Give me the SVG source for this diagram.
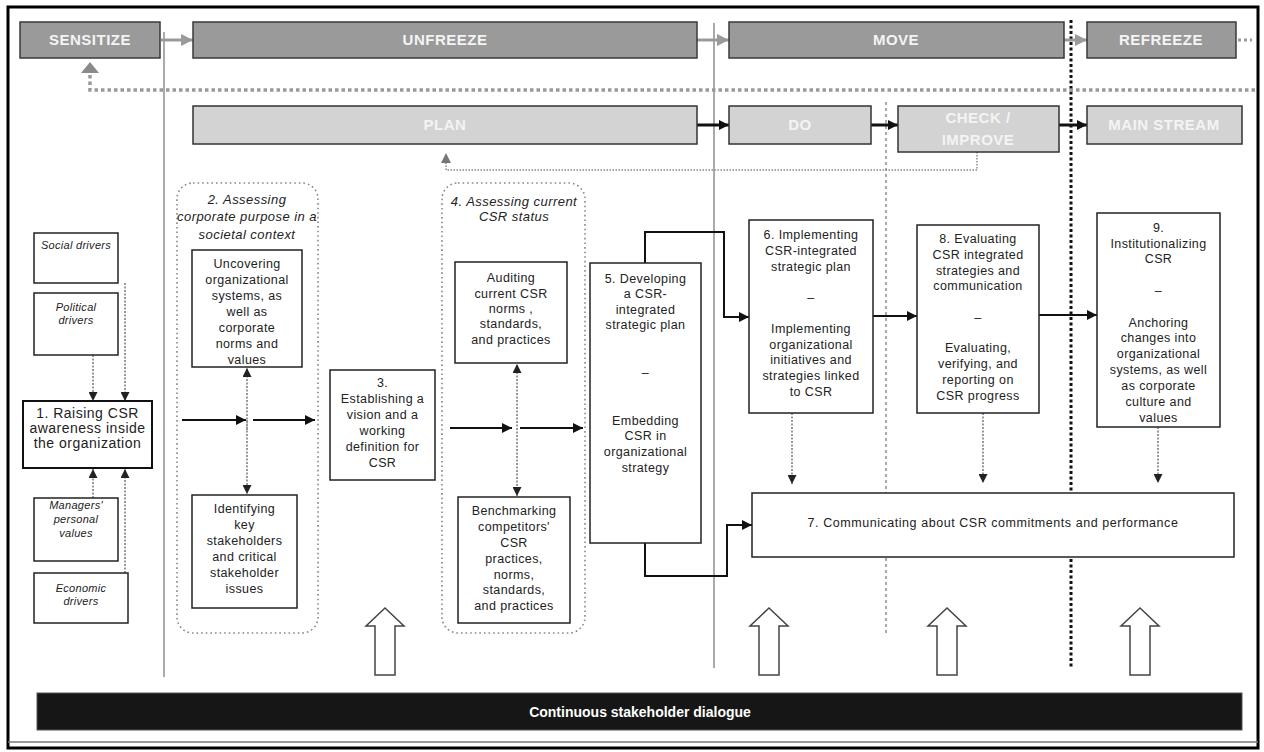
<svg xmlns="http://www.w3.org/2000/svg" width="1264" height="752" viewBox="0 0 1264 752">
<style>
.phase{fill:#9a9a9a;stroke:#3a3a3a;stroke-width:1.5}
.sub{fill:#d3d3d3;stroke:#333;stroke-width:1.5}
.ph{font-family:"Liberation Sans",Arial,sans-serif;font-weight:bold;font-size:15px;fill:#f4f4f4;text-anchor:middle;letter-spacing:0.5px}
.box{fill:#fff;stroke:#222;stroke-width:1.5}
.box1{fill:#fff;stroke:#111;stroke-width:2}
.tx{font-family:"Liberation Sans",Arial,sans-serif;font-size:12.5px;fill:#222;text-anchor:middle;letter-spacing:0.4px}
.tx1{font-family:"Liberation Sans",Arial,sans-serif;font-size:14px;fill:#222;text-anchor:middle;letter-spacing:0.5px}
.it{font-family:"Liberation Sans",Arial,sans-serif;font-style:italic;font-size:13px;fill:#222;text-anchor:middle;letter-spacing:0.45px}
.its{font-family:"Liberation Sans",Arial,sans-serif;font-style:italic;font-size:11px;fill:#222;text-anchor:middle;letter-spacing:0.3px}
.group{fill:none;stroke:#888;stroke-width:1.6;stroke-dasharray:1.6 3}
.solid{fill:none;stroke:#111;stroke-width:2}
.dot{fill:none;stroke:#999;stroke-width:2;stroke-dasharray:2 1.5}
.hollow{fill:#fff;stroke:#444;stroke-width:1.5}
</style>
<defs>
<marker id="ah" viewBox="0 0 10 10" refX="10" refY="5" markerWidth="10" markerHeight="10" markerUnits="userSpaceOnUse" orient="auto"><path d="M0,0 L10,5 L0,10 z" fill="#111"/></marker>
<marker id="ahs" viewBox="0 0 10 10" refX="10" refY="5" markerWidth="9" markerHeight="9" markerUnits="userSpaceOnUse" orient="auto"><path d="M0,0 L10,5 L0,10 z" fill="#222"/></marker>
<marker id="ahg" viewBox="0 0 10 10" refX="10" refY="5" markerWidth="12" markerHeight="12" markerUnits="userSpaceOnUse" orient="auto"><path d="M0,0 L10,5 L0,10 z" fill="#9a9a9a"/></marker>
</defs>
<rect x="0" y="0" width="1264" height="752" fill="#fff"/>
<!-- frame -->
<rect x="8" y="7" width="1250" height="741" fill="none" stroke="#000" stroke-width="3"/>
<line x1="8" y1="742" x2="1258" y2="742" stroke="#777" stroke-width="1.5"/>

<!-- divider lines -->
<g id="dividers">
<line x1="164" y1="32" x2="164" y2="677" stroke="#aaa" stroke-width="2"/>
<line x1="714" y1="23" x2="714" y2="668" stroke="#aaa" stroke-width="2"/>
<line x1="886" y1="102" x2="886" y2="633" stroke="#555" stroke-width="1" stroke-dasharray="3 3"/>
<line x1="1071" y1="20" x2="1071" y2="667" stroke="#111" stroke-width="3" stroke-dasharray="3 2.5"/>
</g>

<g id="connectors">
<!-- top phase arrows -->
<line x1="161" y1="40" x2="193" y2="40" stroke="#9a9a9a" stroke-width="3" marker-end="url(#ahg)"/>
<line x1="697" y1="40" x2="729" y2="40" stroke="#9a9a9a" stroke-width="3" marker-end="url(#ahg)"/>
<line x1="1064" y1="40" x2="1087" y2="40" stroke="#9a9a9a" stroke-width="3" marker-end="url(#ahg)"/>
<line x1="1238" y1="40" x2="1252" y2="40" stroke="#9a9a9a" stroke-width="3" stroke-dasharray="3 3"/>
<!-- feedback dotted to sensitize -->
<path d="M1255,90 H90 V73" fill="none" stroke="#999" stroke-width="3.5" stroke-dasharray="3.5 3"/>
<path d="M90,62 L81,73 L99,73 z" fill="#8a8a8a"/>
<!-- PDCA arrows -->
<line x1="697" y1="125" x2="729" y2="125" stroke="#111" stroke-width="3" marker-end="url(#ah)"/>
<line x1="871" y1="125" x2="898" y2="125" stroke="#111" stroke-width="3" marker-end="url(#ah)"/>
<line x1="1059" y1="125" x2="1087" y2="125" stroke="#111" stroke-width="3" marker-end="url(#ah)"/>
<path d="M977,152 V170 H446 V162" fill="none" stroke="#888" stroke-width="1.5" stroke-dasharray="1.5 1.5"/>
<path d="M446,153 L441,163 L451,163 z" fill="#777"/>
<!-- drivers -->
<line x1="93" y1="355" x2="93" y2="401" class="dot" marker-end="url(#ahs)"/>
<line x1="125" y1="283" x2="125" y2="401" class="dot" marker-end="url(#ahs)"/>
<line x1="93" y1="498" x2="93" y2="469" class="dot" marker-end="url(#ahs)"/>
<line x1="125" y1="573" x2="125" y2="469" class="dot" marker-end="url(#ahs)"/>
<!-- group 2 -->
<line x1="182" y1="420" x2="246" y2="420" class="solid" marker-end="url(#ah)"/>
<line x1="253" y1="420" x2="315" y2="420" class="solid" marker-end="url(#ah)"/>
<line x1="247" y1="430" x2="247" y2="368" class="dot" marker-end="url(#ahs)"/>
<line x1="247" y1="420" x2="247" y2="494" class="dot" marker-end="url(#ahs)"/>
<!-- group 4 -->
<line x1="450" y1="428" x2="512" y2="428" class="solid" marker-end="url(#ah)"/>
<line x1="520" y1="428" x2="583" y2="428" class="solid" marker-end="url(#ah)"/>
<line x1="517" y1="430" x2="517" y2="364" class="dot" marker-end="url(#ahs)"/>
<line x1="517" y1="428" x2="517" y2="496" class="dot" marker-end="url(#ahs)"/>
<!-- 5 to 6 and 7 -->
<path d="M645,263 V232 H724 V317 H749" class="solid" marker-end="url(#ah)"/>
<path d="M645,543 V576 H727 V525 H752" class="solid" marker-end="url(#ah)"/>
<line x1="873" y1="316" x2="917" y2="316" class="solid" marker-end="url(#ah)"/>
<line x1="1039" y1="315" x2="1097" y2="315" class="solid" marker-end="url(#ah)"/>
<line x1="792" y1="413" x2="792" y2="484" class="dot" marker-end="url(#ahs)"/>
<line x1="983" y1="413" x2="983" y2="483" class="dot" marker-end="url(#ahs)"/>
<line x1="1158" y1="427" x2="1158" y2="483" class="dot" marker-end="url(#ahs)"/>
<!-- hollow arrows -->
<path class="hollow" d="M385,608 L404,626 L395,626 L395,675 L375,675 L375,626 L366,626 z"/>
<path class="hollow" d="M769,608 L788,626 L779,626 L779,675 L759,675 L759,626 L750,626 z"/>
<path class="hollow" d="M947,608 L966,626 L957,626 L957,675 L937,675 L937,626 L928,626 z"/>
<path class="hollow" d="M1140,608 L1159,626 L1150,626 L1150,675 L1130,675 L1130,626 L1121,626 z"/>
</g>

<g id="sensitize"><rect class="phase" x="20" y="22" width="140" height="36"/><text class="ph" x="90" y="45">SENSITIZE</text></g>
<g id="unfreeze"><rect class="phase" x="193" y="22" width="504" height="36"/><text class="ph" x="445" y="45">UNFREEZE</text></g>
<g id="move"><rect class="phase" x="729" y="22" width="335" height="36"/><text class="ph" x="896" y="45">MOVE</text></g>
<g id="refreeze"><rect class="phase" x="1087" y="22" width="149" height="36"/><text class="ph" x="1161" y="45">REFREEZE</text></g>

<g id="plan"><rect class="sub" x="193" y="106" width="504" height="38"/><text class="ph" x="445" y="130">PLAN</text></g>
<g id="do"><rect class="sub" x="729" y="106" width="142" height="38"/><text class="ph" x="800" y="130">DO</text></g>
<g id="check"><rect class="sub" x="898" y="106" width="161" height="46"/><text class="ph" x="978" y="123">CHECK /</text><text class="ph" x="978" y="145">IMPROVE</text></g>
<g id="mainstream"><rect class="sub" x="1087" y="106" width="155" height="38"/><text class="ph" x="1164" y="130">MAIN STREAM</text></g>

<g id="social"><rect class="box" x="34" y="233" width="84" height="50"/><text class="its" x="76" y="249">Social drivers</text></g>
<g id="political"><rect class="box" x="34" y="293" width="84" height="62"/><text class="its" x="76" y="311">Political</text><text class="its" x="76" y="324">drivers</text></g>
<g id="step1"><rect class="box1" x="23" y="401" width="129" height="67"/><text class="tx1" x="87.5" y="418">1. Raising CSR</text><text class="tx1" x="87.5" y="433">awareness inside</text><text class="tx1" x="87.5" y="448">the organization</text></g>
<g id="managers"><rect class="box" x="34" y="498" width="84" height="63"/><text class="its" x="76" y="509">Managers'</text><text class="its" x="76" y="523">personal</text><text class="its" x="76" y="537">values</text></g>
<g id="economic"><rect class="box" x="34" y="573" width="94" height="50"/><text class="its" x="81" y="592">Economic</text><text class="its" x="81" y="605">drivers</text></g>

<g id="step2">
<rect class="group" x="177" y="183" width="141" height="450" rx="16"/>
<text class="it" x="247" y="204">2. Assessing</text><text class="it" x="247" y="221">corporate purpose in a</text><text class="it" x="247" y="239">societal context</text>
</g>
<g id="step2a"><rect class="box" x="192" y="250" width="110" height="117"/>
<text class="tx" x="247" y="268">Uncovering</text><text class="tx" x="247" y="284">organizational</text><text class="tx" x="247" y="300">systems, as</text><text class="tx" x="247" y="316">well as</text><text class="tx" x="247" y="332">corporate</text><text class="tx" x="247" y="348">norms and</text><text class="tx" x="247" y="364">values</text></g>
<g id="step2b"><rect class="box" x="192" y="495" width="105" height="113"/>
<text class="tx" x="244.5" y="513">Identifying</text><text class="tx" x="244.5" y="529">key</text><text class="tx" x="244.5" y="545">stakeholders</text><text class="tx" x="244.5" y="561">and critical</text><text class="tx" x="244.5" y="577">stakeholder</text><text class="tx" x="244.5" y="593">issues</text></g>

<g id="step3"><rect class="box" x="330" y="370" width="105" height="110"/>
<text class="tx" x="382.5" y="387">3.</text><text class="tx" x="382.5" y="403">Establishing a</text><text class="tx" x="382.5" y="419">vision and a</text><text class="tx" x="382.5" y="435">working</text><text class="tx" x="382.5" y="451">definition for</text><text class="tx" x="382.5" y="467">CSR</text></g>

<g id="step4">
<rect class="group" x="442" y="183" width="143" height="450" rx="16"/>
<text class="it" x="514" y="206">4. Assessing current</text><text class="it" x="514" y="221">CSR status</text>
</g>
<g id="step4a"><rect class="box" x="455" y="262" width="112" height="101"/>
<text class="tx" x="511" y="282">Auditing</text><text class="tx" x="511" y="298">current CSR</text><text class="tx" x="511" y="313">norms ,</text><text class="tx" x="511" y="328">standards,</text><text class="tx" x="511" y="344">and practices</text></g>
<g id="step4b"><rect class="box" x="458" y="497" width="112" height="126"/>
<text class="tx" x="514" y="515">Benchmarking</text><text class="tx" x="514" y="531">competitors'</text><text class="tx" x="514" y="547">CSR</text><text class="tx" x="514" y="563">practices,</text><text class="tx" x="514" y="579">norms,</text><text class="tx" x="514" y="594">standards,</text><text class="tx" x="514" y="610">and practices</text></g>

<g id="step5"><rect class="box" x="590" y="263" width="111" height="280"/>
<text class="tx" x="645.5" y="283">5. Developing</text><text class="tx" x="645.5" y="298">a CSR-</text><text class="tx" x="645.5" y="314">integrated</text><text class="tx" x="645.5" y="329">strategic plan</text>
<text class="tx" x="645.5" y="377">–</text>
<text class="tx" x="645.5" y="425">Embedding</text><text class="tx" x="645.5" y="440">CSR in</text><text class="tx" x="645.5" y="456">organizational</text><text class="tx" x="645.5" y="472">strategy</text></g>

<g id="step6"><rect class="box" x="749" y="220" width="124" height="193"/>
<text class="tx" x="811" y="239">6. Implementing</text><text class="tx" x="811" y="255">CSR-integrated</text><text class="tx" x="811" y="271">strategic plan</text>
<text class="tx" x="811" y="302">–</text>
<text class="tx" x="811" y="333">Implementing</text><text class="tx" x="811" y="349">organizational</text><text class="tx" x="811" y="364">initiatives and</text><text class="tx" x="811" y="380">strategies linked</text><text class="tx" x="811" y="396">to CSR</text></g>

<g id="step8"><rect class="box" x="917" y="225" width="122" height="188"/>
<text class="tx" x="978" y="243">8. Evaluating</text><text class="tx" x="978" y="259">CSR integrated</text><text class="tx" x="978" y="275">strategies and</text><text class="tx" x="978" y="290">communication</text>
<text class="tx" x="978" y="322">–</text>
<text class="tx" x="978" y="352">Evaluating,</text><text class="tx" x="978" y="368">verifying, and</text><text class="tx" x="978" y="384">reporting on</text><text class="tx" x="978" y="400">CSR progress</text></g>

<g id="step9"><rect class="box" x="1097" y="213" width="123" height="214"/>
<text class="tx" x="1158.5" y="232">9.</text><text class="tx" x="1158.5" y="248">Institutionalizing</text><text class="tx" x="1158.5" y="263">CSR</text>
<text class="tx" x="1158.5" y="295">–</text>
<text class="tx" x="1158.5" y="327">Anchoring</text><text class="tx" x="1158.5" y="342">changes into</text><text class="tx" x="1158.5" y="358">organizational</text><text class="tx" x="1158.5" y="374">systems, as well</text><text class="tx" x="1158.5" y="390">as corporate</text><text class="tx" x="1158.5" y="406">culture and</text><text class="tx" x="1158.5" y="422">values</text></g>

<g id="step7"><rect class="box" x="752" y="493" width="482" height="64"/>
<text class="tx" x="993" y="527" style="letter-spacing:0.55px">7. Communicating about CSR commitments and performance</text></g>

<g id="dialogue"><rect x="37" y="693" width="1205" height="37" fill="#161616" stroke="#555" stroke-width="1"/>
<text x="640" y="717" font-family="Liberation Sans, Arial, sans-serif" font-weight="bold" font-size="14" fill="#fff" text-anchor="middle">Continuous stakeholder dialogue</text></g>
</svg>
